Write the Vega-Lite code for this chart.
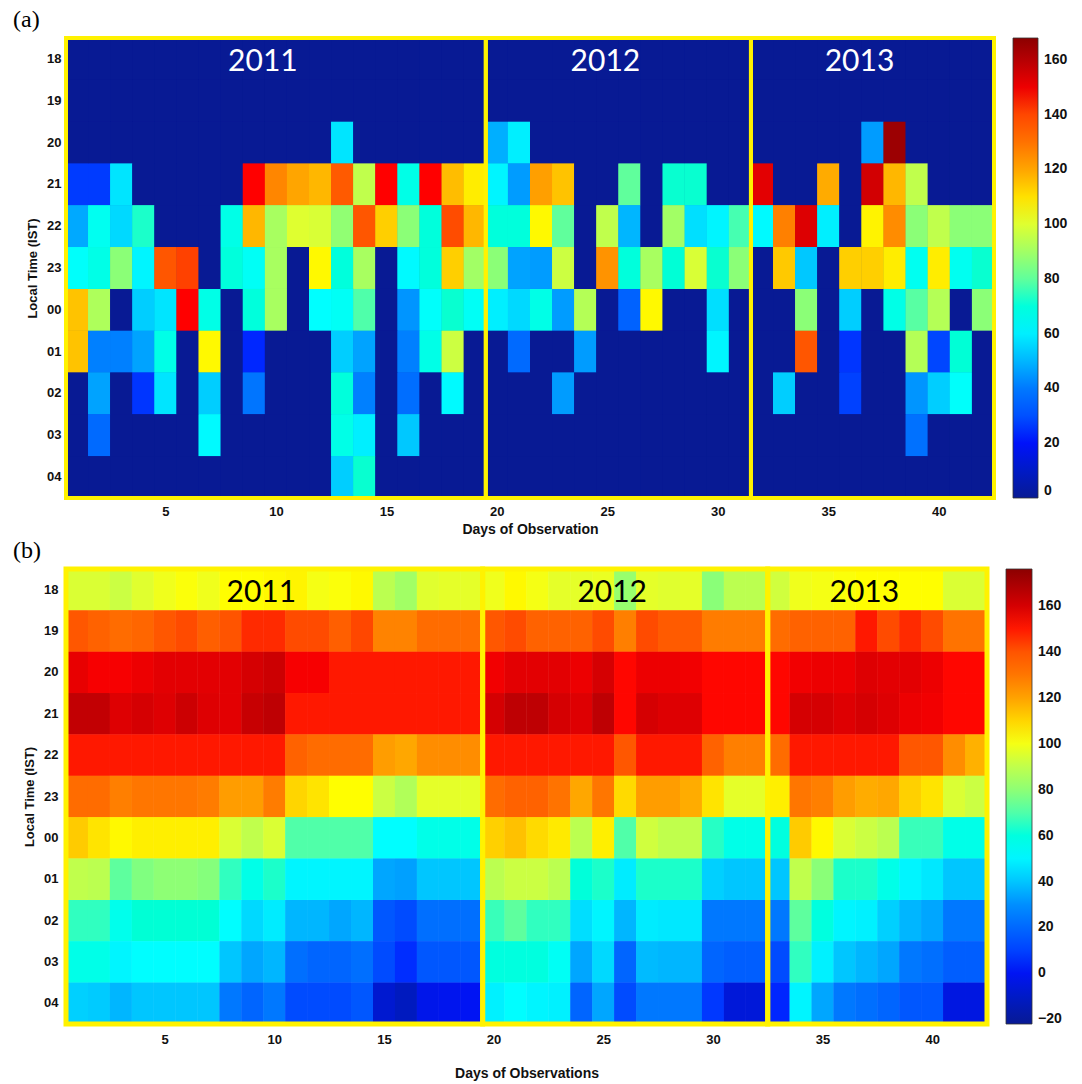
{"$schema":"https://vega.github.io/schema/vega-lite/v6.json","background":"white","padding":{"left":13,"top":8,"right":8,"bottom":4},"spacing":71,"bounds":"flush","resolve":{"scale":{"color":"independent"},"legend":{"color":"independent"}},"config":{"view":{"stroke":null},"font":"Liberation Sans","axis":{"labelFont":"Liberation Sans","labelFontWeight":"bold","labelFontSize":13,"labelColor":"#111","titleFont":"Liberation Sans","titleFontWeight":"bold","titleFontSize":14,"titleColor":"#111","grid":false,"domain":false,"ticks":false},"legend":{"labelFont":"Liberation Sans","labelFontWeight":"bold","labelFontSize":14,"labelColor":"#111"},"title":{"font":"Liberation Serif","fontSize":24,"fontWeight":"normal","color":"#000","anchor":"start","frame":"group"}},
"datasets":{
"years_a":[{"year":"2011","first":1,"last":19},{"year":"2012","first":20,"last":31},{"year":"2013","first":32,"last":42}],
"years_b":[{"year":"2011","first":1,"last":19},{"year":"2012","first":20,"last":32},{"year":"2013","first":33,"last":42}],
"a":[
{"h":"18","d":1,"v":0},{"h":"18","d":2,"v":0},{"h":"18","d":3,"v":0},{"h":"18","d":4,"v":0},{"h":"18","d":5,"v":0},{"h":"18","d":6,"v":0},{"h":"18","d":7,"v":0},{"h":"18","d":8,"v":0},{"h":"18","d":9,"v":0},{"h":"18","d":10,"v":0},{"h":"18","d":11,"v":0},{"h":"18","d":12,"v":0},{"h":"18","d":13,"v":0},{"h":"18","d":14,"v":0},{"h":"18","d":15,"v":0},{"h":"18","d":16,"v":0},{"h":"18","d":17,"v":0},{"h":"18","d":18,"v":0},{"h":"18","d":19,"v":0},{"h":"18","d":20,"v":0},{"h":"18","d":21,"v":0},{"h":"18","d":22,"v":0},{"h":"18","d":23,"v":0},{"h":"18","d":24,"v":0},{"h":"18","d":25,"v":0},{"h":"18","d":26,"v":0},{"h":"18","d":27,"v":0},{"h":"18","d":28,"v":0},{"h":"18","d":29,"v":0},{"h":"18","d":30,"v":0},{"h":"18","d":31,"v":0},{"h":"18","d":32,"v":0},{"h":"18","d":33,"v":0},{"h":"18","d":34,"v":0},{"h":"18","d":35,"v":0},{"h":"18","d":36,"v":0},{"h":"18","d":37,"v":0},{"h":"18","d":38,"v":0},{"h":"18","d":39,"v":0},{"h":"18","d":40,"v":0},{"h":"18","d":41,"v":0},{"h":"18","d":42,"v":0},
{"h":"19","d":1,"v":0},{"h":"19","d":2,"v":0},{"h":"19","d":3,"v":0},{"h":"19","d":4,"v":0},{"h":"19","d":5,"v":0},{"h":"19","d":6,"v":0},{"h":"19","d":7,"v":0},{"h":"19","d":8,"v":0},{"h":"19","d":9,"v":0},{"h":"19","d":10,"v":0},{"h":"19","d":11,"v":0},{"h":"19","d":12,"v":0},{"h":"19","d":13,"v":0},{"h":"19","d":14,"v":0},{"h":"19","d":15,"v":0},{"h":"19","d":16,"v":0},{"h":"19","d":17,"v":0},{"h":"19","d":18,"v":0},{"h":"19","d":19,"v":0},{"h":"19","d":20,"v":0},{"h":"19","d":21,"v":0},{"h":"19","d":22,"v":0},{"h":"19","d":23,"v":0},{"h":"19","d":24,"v":0},{"h":"19","d":25,"v":0},{"h":"19","d":26,"v":0},{"h":"19","d":27,"v":0},{"h":"19","d":28,"v":0},{"h":"19","d":29,"v":0},{"h":"19","d":30,"v":0},{"h":"19","d":31,"v":0},{"h":"19","d":32,"v":0},{"h":"19","d":33,"v":0},{"h":"19","d":34,"v":0},{"h":"19","d":35,"v":0},{"h":"19","d":36,"v":0},{"h":"19","d":37,"v":0},{"h":"19","d":38,"v":0},{"h":"19","d":39,"v":0},{"h":"19","d":40,"v":0},{"h":"19","d":41,"v":0},{"h":"19","d":42,"v":0},
{"h":"20","d":1,"v":0},{"h":"20","d":2,"v":0},{"h":"20","d":3,"v":0},{"h":"20","d":4,"v":0},{"h":"20","d":5,"v":0},{"h":"20","d":6,"v":0},{"h":"20","d":7,"v":0},{"h":"20","d":8,"v":0},{"h":"20","d":9,"v":0},{"h":"20","d":10,"v":0},{"h":"20","d":11,"v":0},{"h":"20","d":12,"v":0},{"h":"20","d":13,"v":58},{"h":"20","d":14,"v":0},{"h":"20","d":15,"v":0},{"h":"20","d":16,"v":0},{"h":"20","d":17,"v":0},{"h":"20","d":18,"v":0},{"h":"20","d":19,"v":0},{"h":"20","d":20,"v":49},{"h":"20","d":21,"v":60},{"h":"20","d":22,"v":0},{"h":"20","d":23,"v":0},{"h":"20","d":24,"v":0},{"h":"20","d":25,"v":0},{"h":"20","d":26,"v":0},{"h":"20","d":27,"v":0},{"h":"20","d":28,"v":0},{"h":"20","d":29,"v":0},{"h":"20","d":30,"v":0},{"h":"20","d":31,"v":0},{"h":"20","d":32,"v":0},{"h":"20","d":33,"v":0},{"h":"20","d":34,"v":0},{"h":"20","d":35,"v":0},{"h":"20","d":36,"v":0},{"h":"20","d":37,"v":46},{"h":"20","d":38,"v":165},{"h":"20","d":39,"v":0},{"h":"20","d":40,"v":0},{"h":"20","d":41,"v":0},{"h":"20","d":42,"v":0},
{"h":"21","d":1,"v":26},{"h":"21","d":2,"v":26},{"h":"21","d":3,"v":58},{"h":"21","d":4,"v":0},{"h":"21","d":5,"v":0},{"h":"21","d":6,"v":0},{"h":"21","d":7,"v":0},{"h":"21","d":8,"v":0},{"h":"21","d":9,"v":147},{"h":"21","d":10,"v":125},{"h":"21","d":11,"v":120},{"h":"21","d":12,"v":117},{"h":"21","d":13,"v":136},{"h":"21","d":14,"v":95},{"h":"21","d":15,"v":147},{"h":"21","d":16,"v":68},{"h":"21","d":17,"v":147},{"h":"21","d":18,"v":116},{"h":"21","d":19,"v":108},{"h":"21","d":20,"v":61},{"h":"21","d":21,"v":46},{"h":"21","d":22,"v":121},{"h":"21","d":23,"v":115},{"h":"21","d":24,"v":0},{"h":"21","d":25,"v":0},{"h":"21","d":26,"v":80},{"h":"21","d":27,"v":0},{"h":"21","d":28,"v":72},{"h":"21","d":29,"v":72},{"h":"21","d":30,"v":0},{"h":"21","d":31,"v":0},{"h":"21","d":32,"v":152},{"h":"21","d":33,"v":0},{"h":"21","d":34,"v":0},{"h":"21","d":35,"v":119},{"h":"21","d":36,"v":0},{"h":"21","d":37,"v":155},{"h":"21","d":38,"v":117},{"h":"21","d":39,"v":95},{"h":"21","d":40,"v":0},{"h":"21","d":41,"v":0},{"h":"21","d":42,"v":0},
{"h":"22","d":1,"v":48},{"h":"22","d":2,"v":66},{"h":"22","d":3,"v":56},{"h":"22","d":4,"v":73},{"h":"22","d":5,"v":0},{"h":"22","d":6,"v":0},{"h":"22","d":7,"v":0},{"h":"22","d":8,"v":68},{"h":"22","d":9,"v":117},{"h":"22","d":10,"v":91},{"h":"22","d":11,"v":100},{"h":"22","d":12,"v":99},{"h":"22","d":13,"v":87},{"h":"22","d":14,"v":137},{"h":"22","d":15,"v":113},{"h":"22","d":16,"v":86},{"h":"22","d":17,"v":70},{"h":"22","d":18,"v":139},{"h":"22","d":19,"v":117},{"h":"22","d":20,"v":70},{"h":"22","d":21,"v":70},{"h":"22","d":22,"v":106},{"h":"22","d":23,"v":80},{"h":"22","d":24,"v":0},{"h":"22","d":25,"v":95},{"h":"22","d":26,"v":50},{"h":"22","d":27,"v":0},{"h":"22","d":28,"v":90},{"h":"22","d":29,"v":57},{"h":"22","d":30,"v":61},{"h":"22","d":31,"v":77},{"h":"22","d":32,"v":62},{"h":"22","d":33,"v":126},{"h":"22","d":34,"v":153},{"h":"22","d":35,"v":60},{"h":"22","d":36,"v":0},{"h":"22","d":37,"v":107},{"h":"22","d":38,"v":124},{"h":"22","d":39,"v":86},{"h":"22","d":40,"v":95},{"h":"22","d":41,"v":86},{"h":"22","d":42,"v":86},
{"h":"23","d":1,"v":64},{"h":"23","d":2,"v":68},{"h":"23","d":3,"v":86},{"h":"23","d":4,"v":61},{"h":"23","d":5,"v":137},{"h":"23","d":6,"v":141},{"h":"23","d":7,"v":0},{"h":"23","d":8,"v":70},{"h":"23","d":9,"v":65},{"h":"23","d":10,"v":91},{"h":"23","d":11,"v":0},{"h":"23","d":12,"v":106},{"h":"23","d":13,"v":70},{"h":"23","d":14,"v":91},{"h":"23","d":15,"v":0},{"h":"23","d":16,"v":62},{"h":"23","d":17,"v":70},{"h":"23","d":18,"v":113},{"h":"23","d":19,"v":90},{"h":"23","d":20,"v":86},{"h":"23","d":21,"v":47},{"h":"23","d":22,"v":46},{"h":"23","d":23,"v":97},{"h":"23","d":24,"v":0},{"h":"23","d":25,"v":123},{"h":"23","d":26,"v":70},{"h":"23","d":27,"v":91},{"h":"23","d":28,"v":71},{"h":"23","d":29,"v":99},{"h":"23","d":30,"v":72},{"h":"23","d":31,"v":86},{"h":"23","d":32,"v":0},{"h":"23","d":33,"v":114},{"h":"23","d":34,"v":53},{"h":"23","d":35,"v":0},{"h":"23","d":36,"v":113},{"h":"23","d":37,"v":113},{"h":"23","d":38,"v":108},{"h":"23","d":39,"v":66},{"h":"23","d":40,"v":108},{"h":"23","d":41,"v":66},{"h":"23","d":42,"v":72},
{"h":"00","d":1,"v":115},{"h":"00","d":2,"v":92},{"h":"00","d":3,"v":0},{"h":"00","d":4,"v":54},{"h":"00","d":5,"v":58},{"h":"00","d":6,"v":147},{"h":"00","d":7,"v":68},{"h":"00","d":8,"v":0},{"h":"00","d":9,"v":70},{"h":"00","d":10,"v":91},{"h":"00","d":11,"v":0},{"h":"00","d":12,"v":63},{"h":"00","d":13,"v":65},{"h":"00","d":14,"v":78},{"h":"00","d":15,"v":0},{"h":"00","d":16,"v":45},{"h":"00","d":17,"v":64},{"h":"00","d":18,"v":72},{"h":"00","d":19,"v":65},{"h":"00","d":20,"v":60},{"h":"00","d":21,"v":56},{"h":"00","d":22,"v":68},{"h":"00","d":23,"v":46},{"h":"00","d":24,"v":93},{"h":"00","d":25,"v":0},{"h":"00","d":26,"v":34},{"h":"00","d":27,"v":106},{"h":"00","d":28,"v":0},{"h":"00","d":29,"v":0},{"h":"00","d":30,"v":57},{"h":"00","d":31,"v":0},{"h":"00","d":32,"v":0},{"h":"00","d":33,"v":0},{"h":"00","d":34,"v":86},{"h":"00","d":35,"v":0},{"h":"00","d":36,"v":54},{"h":"00","d":37,"v":0},{"h":"00","d":38,"v":68},{"h":"00","d":39,"v":79},{"h":"00","d":40,"v":93},{"h":"00","d":41,"v":0},{"h":"00","d":42,"v":86},
{"h":"01","d":1,"v":115},{"h":"01","d":2,"v":42},{"h":"01","d":3,"v":42},{"h":"01","d":4,"v":47},{"h":"01","d":5,"v":68},{"h":"01","d":6,"v":0},{"h":"01","d":7,"v":106},{"h":"01","d":8,"v":0},{"h":"01","d":9,"v":23},{"h":"01","d":10,"v":0},{"h":"01","d":11,"v":0},{"h":"01","d":12,"v":0},{"h":"01","d":13,"v":54},{"h":"01","d":14,"v":47},{"h":"01","d":15,"v":0},{"h":"01","d":16,"v":42},{"h":"01","d":17,"v":68},{"h":"01","d":18,"v":97},{"h":"01","d":19,"v":0},{"h":"01","d":20,"v":0},{"h":"01","d":21,"v":36},{"h":"01","d":22,"v":0},{"h":"01","d":23,"v":0},{"h":"01","d":24,"v":46},{"h":"01","d":25,"v":0},{"h":"01","d":26,"v":0},{"h":"01","d":27,"v":0},{"h":"01","d":28,"v":0},{"h":"01","d":29,"v":0},{"h":"01","d":30,"v":61},{"h":"01","d":31,"v":0},{"h":"01","d":32,"v":0},{"h":"01","d":33,"v":0},{"h":"01","d":34,"v":137},{"h":"01","d":35,"v":0},{"h":"01","d":36,"v":25},{"h":"01","d":37,"v":0},{"h":"01","d":38,"v":0},{"h":"01","d":39,"v":93},{"h":"01","d":40,"v":28},{"h":"01","d":41,"v":71},{"h":"01","d":42,"v":0},
{"h":"02","d":1,"v":0},{"h":"02","d":2,"v":47},{"h":"02","d":3,"v":0},{"h":"02","d":4,"v":25},{"h":"02","d":5,"v":58},{"h":"02","d":6,"v":0},{"h":"02","d":7,"v":54},{"h":"02","d":8,"v":0},{"h":"02","d":9,"v":39},{"h":"02","d":10,"v":0},{"h":"02","d":11,"v":0},{"h":"02","d":12,"v":0},{"h":"02","d":13,"v":70},{"h":"02","d":14,"v":42},{"h":"02","d":15,"v":0},{"h":"02","d":16,"v":37},{"h":"02","d":17,"v":0},{"h":"02","d":18,"v":62},{"h":"02","d":19,"v":0},{"h":"02","d":20,"v":0},{"h":"02","d":21,"v":0},{"h":"02","d":22,"v":0},{"h":"02","d":23,"v":46},{"h":"02","d":24,"v":0},{"h":"02","d":25,"v":0},{"h":"02","d":26,"v":0},{"h":"02","d":27,"v":0},{"h":"02","d":28,"v":0},{"h":"02","d":29,"v":0},{"h":"02","d":30,"v":0},{"h":"02","d":31,"v":0},{"h":"02","d":32,"v":0},{"h":"02","d":33,"v":54},{"h":"02","d":34,"v":0},{"h":"02","d":35,"v":0},{"h":"02","d":36,"v":27},{"h":"02","d":37,"v":0},{"h":"02","d":38,"v":0},{"h":"02","d":39,"v":45},{"h":"02","d":40,"v":54},{"h":"02","d":41,"v":64},{"h":"02","d":42,"v":0},
{"h":"03","d":1,"v":0},{"h":"03","d":2,"v":36},{"h":"03","d":3,"v":0},{"h":"03","d":4,"v":0},{"h":"03","d":5,"v":0},{"h":"03","d":6,"v":0},{"h":"03","d":7,"v":62},{"h":"03","d":8,"v":0},{"h":"03","d":9,"v":0},{"h":"03","d":10,"v":0},{"h":"03","d":11,"v":0},{"h":"03","d":12,"v":0},{"h":"03","d":13,"v":68},{"h":"03","d":14,"v":60},{"h":"03","d":15,"v":0},{"h":"03","d":16,"v":53},{"h":"03","d":17,"v":0},{"h":"03","d":18,"v":0},{"h":"03","d":19,"v":0},{"h":"03","d":20,"v":0},{"h":"03","d":21,"v":0},{"h":"03","d":22,"v":0},{"h":"03","d":23,"v":0},{"h":"03","d":24,"v":0},{"h":"03","d":25,"v":0},{"h":"03","d":26,"v":0},{"h":"03","d":27,"v":0},{"h":"03","d":28,"v":0},{"h":"03","d":29,"v":0},{"h":"03","d":30,"v":0},{"h":"03","d":31,"v":0},{"h":"03","d":32,"v":0},{"h":"03","d":33,"v":0},{"h":"03","d":34,"v":0},{"h":"03","d":35,"v":0},{"h":"03","d":36,"v":0},{"h":"03","d":37,"v":0},{"h":"03","d":38,"v":0},{"h":"03","d":39,"v":38},{"h":"03","d":40,"v":0},{"h":"03","d":41,"v":0},{"h":"03","d":42,"v":0},
{"h":"04","d":1,"v":0},{"h":"04","d":2,"v":0},{"h":"04","d":3,"v":0},{"h":"04","d":4,"v":0},{"h":"04","d":5,"v":0},{"h":"04","d":6,"v":0},{"h":"04","d":7,"v":0},{"h":"04","d":8,"v":0},{"h":"04","d":9,"v":0},{"h":"04","d":10,"v":0},{"h":"04","d":11,"v":0},{"h":"04","d":12,"v":0},{"h":"04","d":13,"v":54},{"h":"04","d":14,"v":72},{"h":"04","d":15,"v":0},{"h":"04","d":16,"v":0},{"h":"04","d":17,"v":0},{"h":"04","d":18,"v":0},{"h":"04","d":19,"v":0},{"h":"04","d":20,"v":0},{"h":"04","d":21,"v":0},{"h":"04","d":22,"v":0},{"h":"04","d":23,"v":0},{"h":"04","d":24,"v":0},{"h":"04","d":25,"v":0},{"h":"04","d":26,"v":0},{"h":"04","d":27,"v":0},{"h":"04","d":28,"v":0},{"h":"04","d":29,"v":0},{"h":"04","d":30,"v":0},{"h":"04","d":31,"v":0},{"h":"04","d":32,"v":0},{"h":"04","d":33,"v":0},{"h":"04","d":34,"v":0},{"h":"04","d":35,"v":0},{"h":"04","d":36,"v":0},{"h":"04","d":37,"v":0},{"h":"04","d":38,"v":0},{"h":"04","d":39,"v":0},{"h":"04","d":40,"v":0},{"h":"04","d":41,"v":0},{"h":"04","d":42,"v":0}
],
"b":[
{"h":"18","d":1,"v":95},{"h":"18","d":2,"v":95},{"h":"18","d":3,"v":92},{"h":"18","d":4,"v":96},{"h":"18","d":5,"v":99},{"h":"18","d":6,"v":101},{"h":"18","d":7,"v":99},{"h":"18","d":8,"v":102},{"h":"18","d":9,"v":102},{"h":"18","d":10,"v":103},{"h":"18","d":11,"v":104},{"h":"18","d":12,"v":100},{"h":"18","d":13,"v":101},{"h":"18","d":14,"v":103},{"h":"18","d":15,"v":89},{"h":"18","d":16,"v":84},{"h":"18","d":17,"v":96},{"h":"18","d":18,"v":97},{"h":"18","d":19,"v":97},{"h":"18","d":20,"v":99},{"h":"18","d":21,"v":103},{"h":"18","d":22,"v":100},{"h":"18","d":23,"v":97},{"h":"18","d":24,"v":97},{"h":"18","d":25,"v":98},{"h":"18","d":26,"v":82},{"h":"18","d":27,"v":97},{"h":"18","d":28,"v":96},{"h":"18","d":29,"v":97},{"h":"18","d":30,"v":79},{"h":"18","d":31,"v":89},{"h":"18","d":32,"v":89},{"h":"18","d":33,"v":93},{"h":"18","d":34,"v":99},{"h":"18","d":35,"v":100},{"h":"18","d":36,"v":101},{"h":"18","d":37,"v":102},{"h":"18","d":38,"v":102},{"h":"18","d":39,"v":102},{"h":"18","d":40,"v":102},{"h":"18","d":41,"v":95},{"h":"18","d":42,"v":95},
{"h":"19","d":1,"v":139},{"h":"19","d":2,"v":136},{"h":"19","d":3,"v":133},{"h":"19","d":4,"v":135},{"h":"19","d":5,"v":139},{"h":"19","d":6,"v":142},{"h":"19","d":7,"v":137},{"h":"19","d":8,"v":140},{"h":"19","d":9,"v":148},{"h":"19","d":10,"v":148},{"h":"19","d":11,"v":142},{"h":"19","d":12,"v":142},{"h":"19","d":13,"v":137},{"h":"19","d":14,"v":143},{"h":"19","d":15,"v":126},{"h":"19","d":16,"v":126},{"h":"19","d":17,"v":133},{"h":"19","d":18,"v":133},{"h":"19","d":19,"v":133},{"h":"19","d":20,"v":139},{"h":"19","d":21,"v":142},{"h":"19","d":22,"v":136},{"h":"19","d":23,"v":136},{"h":"19","d":24,"v":136},{"h":"19","d":25,"v":142},{"h":"19","d":26,"v":127},{"h":"19","d":27,"v":142},{"h":"19","d":28,"v":138},{"h":"19","d":29,"v":138},{"h":"19","d":30,"v":128},{"h":"19","d":31,"v":128},{"h":"19","d":32,"v":128},{"h":"19","d":33,"v":133},{"h":"19","d":34,"v":136},{"h":"19","d":35,"v":136},{"h":"19","d":36,"v":136},{"h":"19","d":37,"v":150},{"h":"19","d":38,"v":142},{"h":"19","d":39,"v":148},{"h":"19","d":40,"v":142},{"h":"19","d":41,"v":131},{"h":"19","d":42,"v":131},
{"h":"20","d":1,"v":156},{"h":"20","d":2,"v":153},{"h":"20","d":3,"v":153},{"h":"20","d":4,"v":155},{"h":"20","d":5,"v":157},{"h":"20","d":6,"v":157},{"h":"20","d":7,"v":157},{"h":"20","d":8,"v":157},{"h":"20","d":9,"v":160},{"h":"20","d":10,"v":162},{"h":"20","d":11,"v":153},{"h":"20","d":12,"v":153},{"h":"20","d":13,"v":150},{"h":"20","d":14,"v":150},{"h":"20","d":15,"v":150},{"h":"20","d":16,"v":150},{"h":"20","d":17,"v":150},{"h":"20","d":18,"v":150},{"h":"20","d":19,"v":150},{"h":"20","d":20,"v":154},{"h":"20","d":21,"v":157},{"h":"20","d":22,"v":157},{"h":"20","d":23,"v":157},{"h":"20","d":24,"v":155},{"h":"20","d":25,"v":160},{"h":"20","d":26,"v":151},{"h":"20","d":27,"v":155},{"h":"20","d":28,"v":155},{"h":"20","d":29,"v":154},{"h":"20","d":30,"v":151},{"h":"20","d":31,"v":151},{"h":"20","d":32,"v":151},{"h":"20","d":33,"v":151},{"h":"20","d":34,"v":154},{"h":"20","d":35,"v":155},{"h":"20","d":36,"v":155},{"h":"20","d":37,"v":158},{"h":"20","d":38,"v":157},{"h":"20","d":39,"v":157},{"h":"20","d":40,"v":155},{"h":"20","d":41,"v":151},{"h":"20","d":42,"v":151},
{"h":"21","d":1,"v":164},{"h":"21","d":2,"v":164},{"h":"21","d":3,"v":158},{"h":"21","d":4,"v":160},{"h":"21","d":5,"v":158},{"h":"21","d":6,"v":162},{"h":"21","d":7,"v":158},{"h":"21","d":8,"v":157},{"h":"21","d":9,"v":163},{"h":"21","d":10,"v":165},{"h":"21","d":11,"v":150},{"h":"21","d":12,"v":150},{"h":"21","d":13,"v":150},{"h":"21","d":14,"v":150},{"h":"21","d":15,"v":150},{"h":"21","d":16,"v":150},{"h":"21","d":17,"v":150},{"h":"21","d":18,"v":150},{"h":"21","d":19,"v":150},{"h":"21","d":20,"v":160},{"h":"21","d":21,"v":165},{"h":"21","d":22,"v":165},{"h":"21","d":23,"v":160},{"h":"21","d":24,"v":158},{"h":"21","d":25,"v":165},{"h":"21","d":26,"v":151},{"h":"21","d":27,"v":160},{"h":"21","d":28,"v":158},{"h":"21","d":29,"v":158},{"h":"21","d":30,"v":151},{"h":"21","d":31,"v":151},{"h":"21","d":32,"v":151},{"h":"21","d":33,"v":151},{"h":"21","d":34,"v":160},{"h":"21","d":35,"v":160},{"h":"21","d":36,"v":158},{"h":"21","d":37,"v":160},{"h":"21","d":38,"v":158},{"h":"21","d":39,"v":155},{"h":"21","d":40,"v":154},{"h":"21","d":41,"v":151},{"h":"21","d":42,"v":151},
{"h":"22","d":1,"v":150},{"h":"22","d":2,"v":150},{"h":"22","d":3,"v":150},{"h":"22","d":4,"v":150},{"h":"22","d":5,"v":150},{"h":"22","d":6,"v":150},{"h":"22","d":7,"v":150},{"h":"22","d":8,"v":150},{"h":"22","d":9,"v":150},{"h":"22","d":10,"v":150},{"h":"22","d":11,"v":136},{"h":"22","d":12,"v":133},{"h":"22","d":13,"v":133},{"h":"22","d":14,"v":133},{"h":"22","d":15,"v":121},{"h":"22","d":16,"v":119},{"h":"22","d":17,"v":124},{"h":"22","d":18,"v":124},{"h":"22","d":19,"v":124},{"h":"22","d":20,"v":150},{"h":"22","d":21,"v":150},{"h":"22","d":22,"v":150},{"h":"22","d":23,"v":150},{"h":"22","d":24,"v":150},{"h":"22","d":25,"v":150},{"h":"22","d":26,"v":139},{"h":"22","d":27,"v":150},{"h":"22","d":28,"v":150},{"h":"22","d":29,"v":150},{"h":"22","d":30,"v":136},{"h":"22","d":31,"v":127},{"h":"22","d":32,"v":127},{"h":"22","d":33,"v":133},{"h":"22","d":34,"v":150},{"h":"22","d":35,"v":150},{"h":"22","d":36,"v":150},{"h":"22","d":37,"v":150},{"h":"22","d":38,"v":150},{"h":"22","d":39,"v":139},{"h":"22","d":40,"v":139},{"h":"22","d":41,"v":124},{"h":"22","d":42,"v":117},
{"h":"23","d":1,"v":133},{"h":"23","d":2,"v":133},{"h":"23","d":3,"v":127},{"h":"23","d":4,"v":130},{"h":"23","d":5,"v":130},{"h":"23","d":6,"v":130},{"h":"23","d":7,"v":128},{"h":"23","d":8,"v":121},{"h":"23","d":9,"v":121},{"h":"23","d":10,"v":128},{"h":"23","d":11,"v":110},{"h":"23","d":12,"v":107},{"h":"23","d":13,"v":102},{"h":"23","d":14,"v":102},{"h":"23","d":15,"v":92},{"h":"23","d":16,"v":87},{"h":"23","d":17,"v":97},{"h":"23","d":18,"v":97},{"h":"23","d":19,"v":97},{"h":"23","d":20,"v":133},{"h":"23","d":21,"v":136},{"h":"23","d":22,"v":136},{"h":"23","d":23,"v":131},{"h":"23","d":24,"v":119},{"h":"23","d":25,"v":130},{"h":"23","d":26,"v":109},{"h":"23","d":27,"v":121},{"h":"23","d":28,"v":121},{"h":"23","d":29,"v":118},{"h":"23","d":30,"v":107},{"h":"23","d":31,"v":97},{"h":"23","d":32,"v":97},{"h":"23","d":33,"v":105},{"h":"23","d":34,"v":130},{"h":"23","d":35,"v":127},{"h":"23","d":36,"v":121},{"h":"23","d":37,"v":118},{"h":"23","d":38,"v":119},{"h":"23","d":39,"v":111},{"h":"23","d":40,"v":107},{"h":"23","d":41,"v":95},{"h":"23","d":42,"v":92},
{"h":"00","d":1,"v":112},{"h":"00","d":2,"v":107},{"h":"00","d":3,"v":103},{"h":"00","d":4,"v":105},{"h":"00","d":5,"v":105},{"h":"00","d":6,"v":105},{"h":"00","d":7,"v":105},{"h":"00","d":8,"v":95},{"h":"00","d":9,"v":90},{"h":"00","d":10,"v":95},{"h":"00","d":11,"v":70},{"h":"00","d":12,"v":70},{"h":"00","d":13,"v":70},{"h":"00","d":14,"v":70},{"h":"00","d":15,"v":52},{"h":"00","d":16,"v":52},{"h":"00","d":17,"v":58},{"h":"00","d":18,"v":58},{"h":"00","d":19,"v":58},{"h":"00","d":20,"v":111},{"h":"00","d":21,"v":114},{"h":"00","d":22,"v":109},{"h":"00","d":23,"v":106},{"h":"00","d":24,"v":89},{"h":"00","d":25,"v":105},{"h":"00","d":26,"v":70},{"h":"00","d":27,"v":93},{"h":"00","d":28,"v":90},{"h":"00","d":29,"v":90},{"h":"00","d":30,"v":65},{"h":"00","d":31,"v":58},{"h":"00","d":32,"v":58},{"h":"00","d":33,"v":60},{"h":"00","d":34,"v":112},{"h":"00","d":35,"v":103},{"h":"00","d":36,"v":95},{"h":"00","d":37,"v":92},{"h":"00","d":38,"v":89},{"h":"00","d":39,"v":67},{"h":"00","d":40,"v":67},{"h":"00","d":41,"v":58},{"h":"00","d":42,"v":58},
{"h":"01","d":1,"v":90},{"h":"01","d":2,"v":89},{"h":"01","d":3,"v":72},{"h":"01","d":4,"v":77},{"h":"01","d":5,"v":80},{"h":"01","d":6,"v":80},{"h":"01","d":7,"v":78},{"h":"01","d":8,"v":66},{"h":"01","d":9,"v":58},{"h":"01","d":10,"v":64},{"h":"01","d":11,"v":50},{"h":"01","d":12,"v":50},{"h":"01","d":13,"v":50},{"h":"01","d":14,"v":50},{"h":"01","d":15,"v":34},{"h":"01","d":16,"v":33},{"h":"01","d":17,"v":40},{"h":"01","d":18,"v":40},{"h":"01","d":19,"v":40},{"h":"01","d":20,"v":89},{"h":"01","d":21,"v":92},{"h":"01","d":22,"v":92},{"h":"01","d":23,"v":89},{"h":"01","d":24,"v":61},{"h":"01","d":25,"v":64},{"h":"01","d":26,"v":48},{"h":"01","d":27,"v":64},{"h":"01","d":28,"v":64},{"h":"01","d":29,"v":64},{"h":"01","d":30,"v":42},{"h":"01","d":31,"v":40},{"h":"01","d":32,"v":40},{"h":"01","d":33,"v":40},{"h":"01","d":34,"v":90},{"h":"01","d":35,"v":79},{"h":"01","d":36,"v":64},{"h":"01","d":37,"v":64},{"h":"01","d":38,"v":58},{"h":"01","d":39,"v":50},{"h":"01","d":40,"v":47},{"h":"01","d":41,"v":40},{"h":"01","d":42,"v":40},
{"h":"02","d":1,"v":66},{"h":"02","d":2,"v":66},{"h":"02","d":3,"v":57},{"h":"02","d":4,"v":62},{"h":"02","d":5,"v":62},{"h":"02","d":6,"v":62},{"h":"02","d":7,"v":62},{"h":"02","d":8,"v":52},{"h":"02","d":9,"v":44},{"h":"02","d":10,"v":48},{"h":"02","d":11,"v":37},{"h":"02","d":12,"v":37},{"h":"02","d":13,"v":34},{"h":"02","d":14,"v":37},{"h":"02","d":15,"v":15},{"h":"02","d":16,"v":12},{"h":"02","d":17,"v":22},{"h":"02","d":18,"v":22},{"h":"02","d":19,"v":22},{"h":"02","d":20,"v":67},{"h":"02","d":21,"v":72},{"h":"02","d":22,"v":66},{"h":"02","d":23,"v":66},{"h":"02","d":24,"v":45},{"h":"02","d":25,"v":50},{"h":"02","d":26,"v":37},{"h":"02","d":27,"v":48},{"h":"02","d":28,"v":47},{"h":"02","d":29,"v":47},{"h":"02","d":30,"v":25},{"h":"02","d":31,"v":25},{"h":"02","d":32,"v":25},{"h":"02","d":33,"v":25},{"h":"02","d":34,"v":72},{"h":"02","d":35,"v":60},{"h":"02","d":36,"v":50},{"h":"02","d":37,"v":49},{"h":"02","d":38,"v":42},{"h":"02","d":39,"v":37},{"h":"02","d":40,"v":34},{"h":"02","d":41,"v":25},{"h":"02","d":42,"v":25},
{"h":"03","d":1,"v":58},{"h":"03","d":2,"v":58},{"h":"03","d":3,"v":50},{"h":"03","d":4,"v":52},{"h":"03","d":5,"v":52},{"h":"03","d":6,"v":52},{"h":"03","d":7,"v":52},{"h":"03","d":8,"v":40},{"h":"03","d":9,"v":34},{"h":"03","d":10,"v":37},{"h":"03","d":11,"v":22},{"h":"03","d":12,"v":19},{"h":"03","d":13,"v":19},{"h":"03","d":14,"v":22},{"h":"03","d":15,"v":12},{"h":"03","d":16,"v":6},{"h":"03","d":17,"v":15},{"h":"03","d":18,"v":15},{"h":"03","d":19,"v":15},{"h":"03","d":20,"v":60},{"h":"03","d":21,"v":60},{"h":"03","d":22,"v":60},{"h":"03","d":23,"v":55},{"h":"03","d":24,"v":34},{"h":"03","d":25,"v":44},{"h":"03","d":26,"v":19},{"h":"03","d":27,"v":38},{"h":"03","d":28,"v":37},{"h":"03","d":29,"v":37},{"h":"03","d":30,"v":19},{"h":"03","d":31,"v":17},{"h":"03","d":32,"v":17},{"h":"03","d":33,"v":12},{"h":"03","d":34,"v":66},{"h":"03","d":35,"v":49},{"h":"03","d":36,"v":40},{"h":"03","d":37,"v":37},{"h":"03","d":38,"v":34},{"h":"03","d":39,"v":25},{"h":"03","d":40,"v":22},{"h":"03","d":41,"v":17},{"h":"03","d":42,"v":17},
{"h":"04","d":1,"v":42},{"h":"04","d":2,"v":41},{"h":"04","d":3,"v":37},{"h":"04","d":4,"v":40},{"h":"04","d":5,"v":40},{"h":"04","d":6,"v":40},{"h":"04","d":7,"v":40},{"h":"04","d":8,"v":25},{"h":"04","d":9,"v":19},{"h":"04","d":10,"v":25},{"h":"04","d":11,"v":12},{"h":"04","d":12,"v":12},{"h":"04","d":13,"v":12},{"h":"04","d":14,"v":15},{"h":"04","d":15,"v":-8},{"h":"04","d":16,"v":-12},{"h":"04","d":17,"v":-2},{"h":"04","d":18,"v":-1},{"h":"04","d":19,"v":0},{"h":"04","d":20,"v":49},{"h":"04","d":21,"v":52},{"h":"04","d":22,"v":50},{"h":"04","d":23,"v":49},{"h":"04","d":24,"v":19},{"h":"04","d":25,"v":34},{"h":"04","d":26,"v":12},{"h":"04","d":27,"v":25},{"h":"04","d":28,"v":25},{"h":"04","d":29,"v":25},{"h":"04","d":30,"v":8},{"h":"04","d":31,"v":-6},{"h":"04","d":32,"v":-6},{"h":"04","d":33,"v":5},{"h":"04","d":34,"v":50},{"h":"04","d":35,"v":34},{"h":"04","d":36,"v":25},{"h":"04","d":37,"v":22},{"h":"04","d":38,"v":19},{"h":"04","d":39,"v":15},{"h":"04","d":40,"v":15},{"h":"04","d":41,"v":-4},{"h":"04","d":42,"v":-4}
]},
"vconcat":[
{"title":{"text":"(a)","dx":-53,"offset":4},"width":928,"height":460,"view":{"fill":"#081a94","stroke":null},
"layer":[
{"data":{"name":"a"},"transform":[{"calculate":"datum.d - 0.5","as":"d0"},{"calculate":"datum.d + 0.5","as":"d1"}],
"mark":{"type":"rect"},
"encoding":{
"x":{"field":"d0","type":"quantitative","scale":{"domain":[0.5,42.5],"nice":false,"zero":false},"axis":{"values":[5,10,15,20,25,30,35,40],"title":"Days of Observation","labelPadding":7,"titlePadding":4}},
"x2":{"field":"d1"},
"y":{"field":"h","type":"ordinal","scale":{"domain":["18","19","20","21","22","23","00","01","02","03","04"],"paddingInner":0,"paddingOuter":0},"axis":{"title":"Local Time (IST)","titleFontSize":13,"labelPadding":5,"titlePadding":7}},
"color":{"field":"v","type":"quantitative","scale":{"domain":[0,21,42,63,84,105,126,147,168],"range":["#081a94","#0010ff","#0080ff","#00ffff","#80ff80","#ffff00","#ff8000","#ff0000","#8c0000"]},"legend":{"type":"gradient","title":null,"orient":"right","direction":"vertical","offset":19,"gradientLength":460,"gradientThickness":25,"values":[0,20,40,60,80,100,120,140,160],"labelOverlap":false,"gradientStrokeColor":"#333","gradientStrokeWidth":0.8,"labelOffset":6}}
}},
{"data":{"name":"a"},"transform":[{"calculate":"datum.d - 0.5","as":"d0"},{"calculate":"datum.d + 0.5","as":"d1"}],
"mark":{"type":"rect"},
"encoding":{"x":{"field":"d0","type":"quantitative"},"x2":{"field":"d1"},"y":{"field":"h","type":"ordinal"},"color":{"field":"v","type":"quantitative"}}},
{"data":{"name":"years_a"},"transform":[{"calculate":"datum.first - 0.5","as":"x0"},{"calculate":"datum.last + 0.5","as":"x1"}],
"mark":{"type":"rect","filled":false,"stroke":"#fff200","strokeWidth":4},
"encoding":{"x":{"field":"x0","type":"quantitative"},"x2":{"field":"x1"}}},
{"data":{"name":"years_a"},"transform":[{"calculate":"(datum.first + datum.last) / 2","as":"xm"}],
"mark":{"type":"text","font":"Lato","fontSize":30,"color":"white","baseline":"middle","dx":-13,"dy":3},
"encoding":{"x":{"field":"xm","type":"quantitative"},"y":{"datum":"18","type":"ordinal"},"text":{"field":"year"}}}
]},
{"title":{"text":"(b)","dx":-53,"offset":4},"width":921,"height":455,
"layer":[
{"data":{"name":"b"},"transform":[{"calculate":"datum.d - 0.5","as":"d0"},{"calculate":"datum.d + 0.5","as":"d1"}],
"mark":{"type":"rect"},
"encoding":{
"x":{"field":"d0","type":"quantitative","scale":{"domain":[0.5,42.5],"nice":false,"zero":false},"axis":{"values":[5,10,15,20,25,30,35,40],"title":"Days of Observations","labelPadding":9,"titlePadding":20}},
"x2":{"field":"d1"},
"y":{"field":"h","type":"ordinal","scale":{"domain":["18","19","20","21","22","23","00","01","02","03","04"],"paddingInner":0,"paddingOuter":0},"axis":{"title":"Local Time (IST)","titleFontSize":13,"labelPadding":8,"titlePadding":7}},
"color":{"field":"v","type":"quantitative","scale":{"domain":[-22,2.75,27.5,52.25,77,101.75,126.5,151.25,176],"range":["#081a94","#0010ff","#0080ff","#00ffff","#80ff80","#ffff00","#ff8000","#ff0000","#8c0000"]},"legend":{"type":"gradient","title":null,"orient":"right","direction":"vertical","offset":19,"gradientLength":455,"gradientThickness":26,"values":[-20,0,20,40,60,80,100,120,140,160],"labelOverlap":false,"gradientStrokeColor":"#333","gradientStrokeWidth":0.8,"labelOffset":6}}
}},
{"data":{"name":"b"},"transform":[{"calculate":"datum.d - 0.5","as":"d0"},{"calculate":"datum.d + 0.5","as":"d1"}],
"mark":{"type":"rect"},
"encoding":{"x":{"field":"d0","type":"quantitative"},"x2":{"field":"d1"},"y":{"field":"h","type":"ordinal"},"color":{"field":"v","type":"quantitative"}}},
{"data":{"name":"years_b"},"transform":[{"calculate":"datum.first - 0.5","as":"x0"},{"calculate":"datum.last + 0.5","as":"x1"}],
"mark":{"type":"rect","filled":false,"stroke":"#fff200","strokeWidth":5},
"encoding":{"x":{"field":"x0","type":"quantitative"},"x2":{"field":"x1"}}},
{"data":{"name":"years_b"},"transform":[{"calculate":"(datum.first + datum.last) / 2","as":"xm"}],
"mark":{"type":"text","font":"Lato","fontSize":30,"color":"black","baseline":"middle","dx":-13,"dy":3},
"encoding":{"x":{"field":"xm","type":"quantitative"},"y":{"datum":"18","type":"ordinal"},"text":{"field":"year"}}}
]}
]}
